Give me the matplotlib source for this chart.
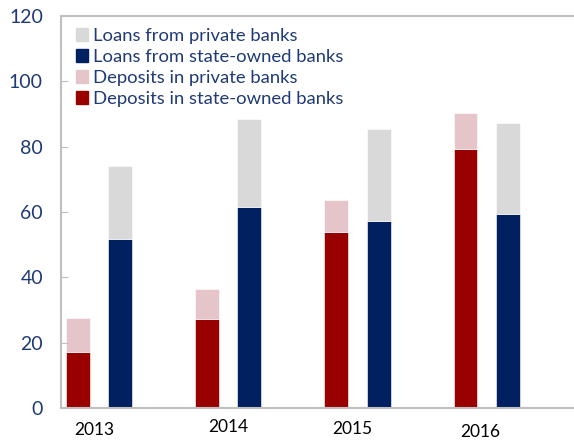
import numpy as np
import matplotlib.pyplot as plt
from matplotlib.patches import Patch

plt.rcParams['font.family'] = ['Lato', 'DejaVu Sans']

years = ['2013', '2014', '2015', '2016']
deposits_state = [17.0, 27.3, 54.0, 79.4]
deposits_private = [10.6, 9.2, 9.6, 10.8]
loans_state = [51.8, 61.4, 57.2, 59.5]
loans_private = [22.4, 27.1, 28.3, 27.7]

navy = '#002060'
dark_red = '#990000'
pink = '#E6C5CA'
grey = '#D9D9D9'
text_navy = '#1F3A78'

fig = plt.figure(figsize=(5.74, 4.41), dpi=100)
ax = fig.add_axes([61 / 574, 33 / 441, 1 - 61 / 574 + 0.01, 392 / 441])

x = np.arange(len(years))
w = 0.185
off = 0.164

ax.bar(x - off, deposits_state, w, color=dark_red, edgecolor='white', linewidth=0.4)
ax.bar(x - off, deposits_private, w, bottom=deposits_state, color=pink,
       edgecolor='white', linewidth=0.4)
ax.bar(x + off, loans_state, w, color=navy, edgecolor='white', linewidth=0.4)
ax.bar(x + off, loans_private, w, bottom=loans_state, color=grey,
       edgecolor='white', linewidth=0.4)

ax.set_xlim(-0.294, 3.72)
ax.set_ylim(0, 120)
ax.set_yticks(range(0, 121, 20))
ax.tick_params(axis='y', direction='in', length=5, color='#BFBFBF',
               labelsize=14, labelcolor=text_navy, pad=13)
ax.set_xticks([])

# year labels sit slightly off the group centres
label_shift = [(-5, -22), (0, -19), (-5, -21), (-6, -24)]
for xi, yr, (dx, dy) in zip(x, years, label_shift):
    ax.annotate(yr, xy=(xi, 0), xycoords=('data', 'axes fraction'),
                xytext=(dx * 0.72, dy * 0.72), textcoords='offset points',
                ha='center', va='center', fontsize=12.5, color='black')

for side in ['left', 'bottom', 'top']:
    ax.spines[side].set_color('#BFBFBF')
    ax.spines[side].set_linewidth(1.5)
ax.spines['right'].set_visible(False)

handles = [
    Patch(color=grey, label='Loans from private banks'),
    Patch(color=navy, label='Loans from state-owned banks'),
    Patch(color=pink, label='Deposits in private banks'),
    Patch(color=dark_red, label='Deposits in state-owned banks'),
]
leg = ax.legend(handles=handles, loc='upper left', bbox_to_anchor=(0.005, 1.0),
                frameon=False, fontsize=13.3, handlelength=0.65, handleheight=0.65,
                handletextpad=0.3, labelspacing=0.27, borderaxespad=0.25)
for t in leg.get_texts():
    t.set_color(text_navy)

fig.savefig('out.png', dpi=100)
